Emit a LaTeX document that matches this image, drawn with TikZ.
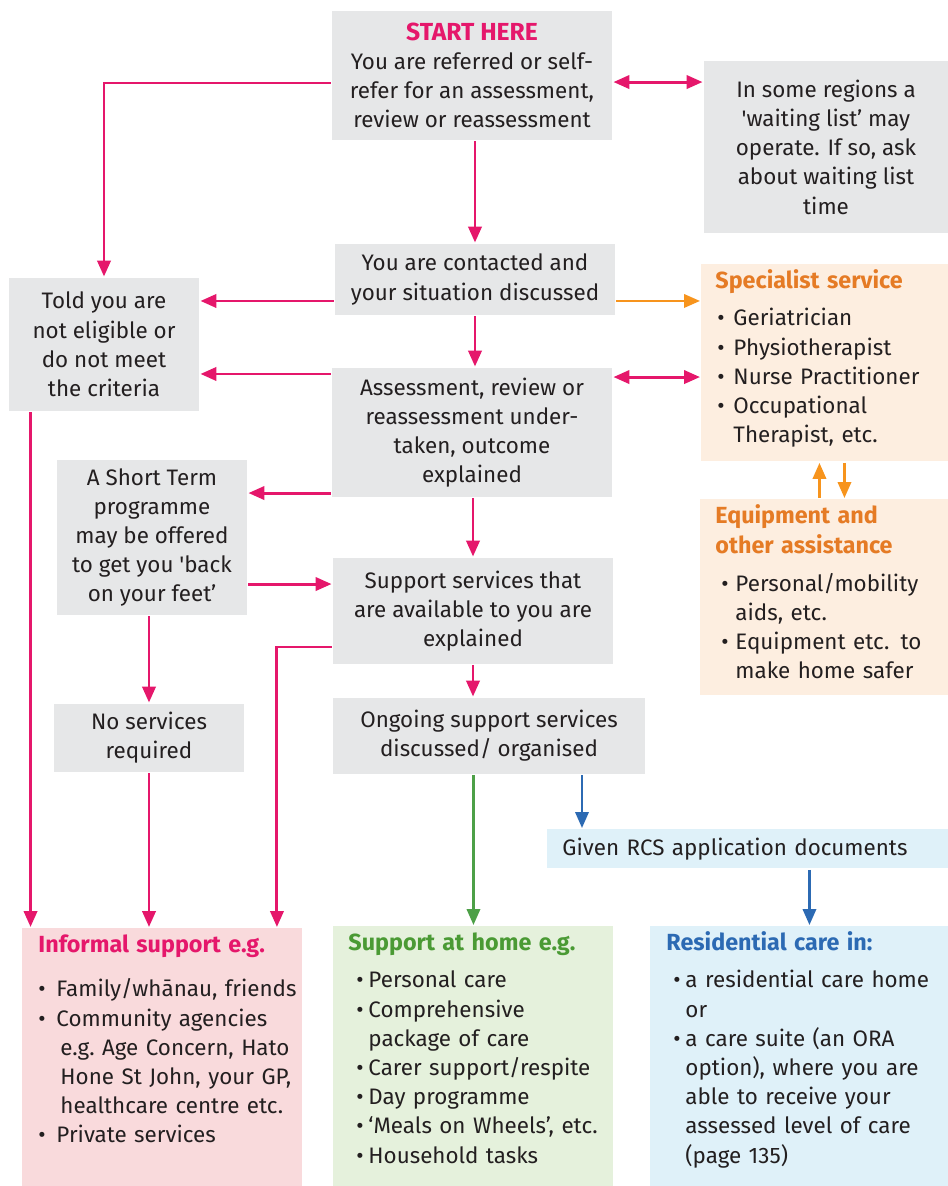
\documentclass[tikz,border=0pt]{standalone}
\usepackage{fontspec}
\setmainfont{Fira Sans}
\usepackage{tikz}
\usetikzlibrary{arrows.meta, positioning, calc}

\definecolor{pinkline}{HTML}{E5176B}
\definecolor{orangeline}{HTML}{F7941D}
\definecolor{orangetext}{HTML}{E57B25}
\definecolor{orangebg}{HTML}{FDEEE0}
\definecolor{greybg}{HTML}{E6E7E8}
\definecolor{pinkbg}{HTML}{F9DADC}
\definecolor{greenbg}{HTML}{E5F1DC}
\definecolor{greenline}{HTML}{4DA047}
\definecolor{greentext}{HTML}{4A9A34}
\definecolor{bluebg}{HTML}{DFF1F9}
\definecolor{blueline}{HTML}{2C6AB3}
\definecolor{bodytext}{HTML}{231F20}

% bullet lists inside the coloured panels
\newlength\bulin
\newlength\bulw
\newcommand{\hdfont}{\fontsize{17.5}{21.9}\selectfont\bfseries}
\newcommand{\hd}[2]{\noindent\strut\textcolor{#1}{\hdfont #2}}
\newcommand{\itm}[1]{\par\noindent\hspace*{\bulin}\makebox[\bulw][l]{\textbullet}#1}
\newcommand{\cnt}[1]{\par\noindent\hspace*{\bulin}\hspace*{\bulw}#1}

\begin{document}
\begin{tikzpicture}[
    x=0.75pt, y=-0.75pt,
    font=\fontsize{16.8}{21.9}\selectfont,
    text=bodytext,
    >={Triangle[length=12pt,width=10pt]},
    line width=2.2pt,
    greybox/.style={
      fill=greybg,
      align=center,
      inner sep=0pt
    },
    panel/.style={
      anchor=north west,
      inner sep=0pt
    },
    paneltext/.style={
      anchor=north west,
      inner sep=0pt,
      align=left,
      text width=#1
    },
    pinkarrow/.style={->, pinkline},
    orangearrow/.style={->, orangeline, line width=1.9pt},
    greenarrow/.style={->, greenline, line width=1.9pt},
    bluearrow/.style={->, blueline, line width=1.9pt}
]
\useasboundingbox (0,0) rectangle (948,1186);

% grey steps
\node[greybox, minimum width=210pt, minimum height=96.75pt] (start) at (472,75.5) {\textcolor{pinkline}{\fontsize{18.5}{21.9}\selectfont\bfseries START HERE}\\You are referred or self-\\refer for an assessment,\\review or reassessment};
\node[greybox, minimum width=183pt, minimum height=129pt] (waiting) at (826,147) {In some regions a\\\textquotesingle waiting list’ may\\operate. If so, ask\\about waiting list\\time};
\node[greybox, minimum width=210pt, minimum height=53.25pt] (contact) at (475,279.5) {You are contacted and\\your situation discussed};
\node[greybox, minimum width=142.5pt, minimum height=99.75pt] (told) at (104,344.5) {Told you are\\not eligible or\\do not meet\\the criteria};
\node[greybox, minimum width=210pt, minimum height=96.75pt] (assess) at (472,432.5) {Assessment, review or\\reassessment under-\\taken, outcome\\explained};
\node[greybox, minimum width=142.5pt, minimum height=116.25pt] (short) at (152,537.5) {A Short Term\\programme\\may be offered\\to get you \textquotesingle back\\on your feet’};
\node[greybox, minimum width=210pt, minimum height=79.5pt] (support) at (473,611) {Support services that\\are available to you are\\explained};
\node[greybox, minimum width=142.5pt, minimum height=51pt] (nosvc) at (149,738) {No services\\required};
\node[greybox, minimum width=234pt, minimum height=57pt] (ongoing) at (489,736) {Ongoing support services\\discussed/ organised};

% orange panels
\node[panel, fill=orangebg, minimum width=186pt, minimum height=147.75pt] (special) at (700,263) {};
\node[paneltext=172pt] (specialtxt) at (714,267) {\setlength\bulin{1.5pt}\setlength\bulw{12pt}\hd{orangetext}{Specialist service}\par\vspace{5.85pt}\itm{Geriatrician}\itm{Physiotherapist}\itm{Nurse Practitioner}\itm{Occupational}\cnt{Therapist, etc.}};
\node[panel, fill=orangebg, minimum width=186.75pt, minimum height=147pt] (equip) at (699,498) {};
\node[paneltext=172pt] (equiptxt) at (714,502) {\setlength\bulin{4.5pt}\setlength\bulw{10.5pt}\hd{orangetext}{Equipment and}\par\noindent\textcolor{orangetext}{\hdfont other assistance}\par\vspace{6.6pt}\itm{Personal/mobility}\cnt{aids, etc.}\itm{Equipment etc. to}\cnt{make home safer}};

% outcomes
\node[panel, fill=bluebg, minimum width=301.5pt, minimum height=29.25pt, text width=279pt, align=left, inner xsep=11.25pt] (given) at (546,828) {Given RCS application documents};
\node[panel, fill=pinkbg, minimum width=210pt, minimum height=194.25pt] (informal) at (21,927) {};
\node[paneltext=200pt] (informaltxt) at (37,931) {\setlength\bulin{0pt}\setlength\bulw{13.5pt}\hd{pinkline}{Informal support e.g.}\par\vspace{11.1pt}\itm{Family/whānau, friends}\itm{Community agencies}\cnt{\hspace*{3pt}e.g.\ Age Concern, Hato}\cnt{\hspace*{3pt}Hone St John, your GP,}\cnt{\hspace*{3pt}healthcare centre etc.}\itm{Private services}};
\node[panel, fill=greenbg, minimum width=210pt, minimum height=195.75pt] (home) at (332,925) {};
\node[paneltext=195pt] (hometxt) at (347,929) {\setlength\bulin{6pt}\setlength\bulw{9pt}\hd{greentext}{Support at home e.g.}\par\vspace{5.85pt}\itm{Personal care}\itm{Comprehensive}\cnt{package of care}\itm{Carer support/respite}\itm{Day programme}\itm{‘Meals on Wheels’, etc.}\itm{Household tasks}};
\node[panel, fill=bluebg, minimum width=224.25pt, minimum height=195.75pt] (resid) at (649,925) {};
\node[paneltext=210pt] (residtxt) at (665,929) {\setlength\bulin{5.25pt}\setlength\bulw{9pt}\hd{blueline}{Residential care in:}\par\vspace{5.85pt}\itm{a residential care home}\cnt{or}\itm{a care suite (an ORA}\cnt{option), where you are}\cnt{able to receive your}\cnt{assessed level of care}\cnt{(page 135)}};

% connectors
\coordinate (startL) at ([yshift=-5.6pt]start.west);
\coordinate (startR) at ([yshift=-4.9pt]start.east);
\coordinate (contactL) at ([yshift=-16.1pt]contact.west);
\coordinate (contactR) at ([yshift=-16.1pt]contact.east);
\coordinate (assessL) at ([yshift=43.9pt]assess.west);
\coordinate (assessR) at ([yshift=41.6pt]assess.east);
\coordinate (assessS) at ([yshift=-45.4pt]assess.west);
\coordinate (shortR) at ([yshift=-34.9pt]short.east);
\coordinate (supportL) at ([yshift=-27pt]support.west);
\coordinate (informalR) at ([xshift=-20.25pt]informal.north east);
\coordinate (toldB) at ([xshift=17.25pt]told.south west);
\coordinate (ongoingB) at ([xshift=69.75pt]ongoing.south);
\coordinate (givenB) at ([xshift=45.75pt]given.south);
\coordinate (specialUp) at ([xshift=-4.5pt]special.south);
\coordinate (specialDn) at ([xshift=14.25pt]special.south);

\draw[pinkarrow] (startL) -| (told.north);
\draw[pinkarrow, <->] (startR) -- (startR -| waiting.west);
\draw[pinkarrow] (start.south -| contact.north) -- (contact.north);
\draw[pinkarrow] (contactL) -- (contactL -| told.east);
\draw[orangearrow] (contactR) -- (contactR -| special.west);
\draw[pinkarrow] (contact.south) -- (contact.south |- assess.north);
\draw[pinkarrow] (assessL) -- (assessL -| told.east);
\draw[pinkarrow, <->] (assessR) -- (assessR -| special.west);
\draw[pinkarrow] (assessS) -- (assessS -| short.east);
\draw[pinkarrow] (assess.south -| support.north) -- (support.north);
\draw[pinkarrow] (shortR) -- (shortR -| support.west);
\draw[pinkarrow] (short.south -| nosvc.north) -- (nosvc.north);
\draw[pinkarrow] (support.south) -- (support.south |- ongoing.north);
\draw[pinkarrow] (supportL) -| (informalR);
\draw[pinkarrow] (toldB) -- (toldB |- informal.north);
\draw[pinkarrow] (nosvc.south) -- (nosvc.south |- informal.north);
\draw[greenarrow] (ongoing.south -| home.north) -- (home.north);
\draw[bluearrow] (ongoingB) -- (ongoingB |- given.north);
\draw[bluearrow] (givenB) -- (givenB |- resid.north);
\draw[orangearrow] (specialUp |- equip.north) -- (specialUp);
\draw[orangearrow] (specialDn) -- (specialDn |- equip.north);
\end{tikzpicture}
\end{document}
